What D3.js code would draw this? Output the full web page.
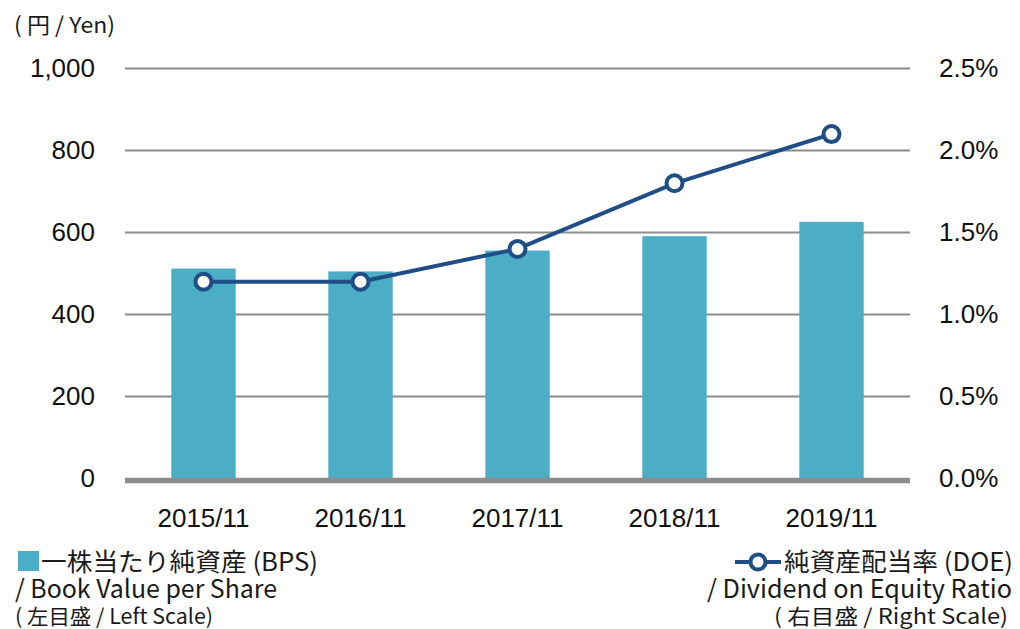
<!DOCTYPE html>
<html><head><meta charset="utf-8">
<script src="https://cdn.jsdelivr.net/npm/d3@7"></script>
<style>
body{margin:0;background:#fff;}
svg{display:block;}
</style></head>
<body>
<svg id="chart" width="1020" height="629"></svg>
<script>
const categories = ["2015/11","2016/11","2017/11","2018/11","2019/11"];
const bpsValues = [512, 505, 556, 591, 626];
const doeValues = [1.2, 1.2, 1.4, 1.8, 2.1];
const leftTicks = [0, 200, 400, 600, 800, 1000];
const rightTicks = [0, 0.5, 1.0, 1.5, 2.0, 2.5];
const unitLabel = "( 円 / Yen)";
const legendBps = ["一株当たり純資産 (BPS)", "/ Book Value per Share", "( 左目盛 / Left Scale)"];
const legendDoe = ["純資産配当率 (DOE)", "/ Dividend on Equity Ratio", "( 右目盛 / Right Scale)"];

const barColor = "#4badc6", lineColor = "#1f4e86", gridColor = "#8c8c8c";
const tickFont = "'Liberation Sans', Arial, sans-serif";
const jpFont = "'Noto Sans CJK JP', 'Noto Sans', sans-serif";

const svg = d3.select("#chart");
const L = 125, R = 910;
const x = d3.scaleBand().domain(categories).range([L, R]).paddingInner(0.59).paddingOuter(0.295);
const y = d3.scaleLinear().domain([0, 1000]).range([478.5, 68.5]);
const y2 = d3.scaleLinear().domain([0, 2.5]).range([478.5, 68.5]);

// gridlines
svg.append("g").selectAll("line").data(leftTicks.filter(d => d > 0)).join("line")
  .attr("x1", L).attr("x2", R).attr("y1", d => y(d)).attr("y2", d => y(d))
  .attr("stroke", gridColor).attr("stroke-width", 2);

// left axis labels
const yAxis = d3.axisLeft(y).tickValues(leftTicks).tickSize(0).tickPadding(0)
  .tickFormat(d3.format(","));
const gy = svg.append("g").attr("transform", `translate(95,0)`).call(yAxis);
gy.select(".domain").remove();
gy.selectAll("text").attr("font-family", tickFont).attr("font-size", 26).attr("fill", "#111");

// right axis labels
const y2Axis = d3.axisRight(y2).tickValues(rightTicks).tickSize(0).tickPadding(0)
  .tickFormat(d => d3.format(".1f")(d) + "%");
const gy2 = svg.append("g").attr("transform", `translate(939,0)`).call(y2Axis);
gy2.select(".domain").remove();
gy2.selectAll("text").attr("font-family", tickFont).attr("font-size", 26).attr("fill", "#111");

// bars
svg.append("g").selectAll("rect").data(categories).join("rect")
  .attr("x", d => x(d)).attr("width", x.bandwidth())
  .attr("y", (d, i) => y(bpsValues[i])).attr("height", (d, i) => y(0) - y(bpsValues[i]))
  .attr("fill", barColor);

// baseline
svg.append("line").attr("x1", L).attr("x2", R).attr("y1", y(0) + 2).attr("y2", y(0) + 2)
  .attr("stroke", gridColor).attr("stroke-width", 5.5);

// x axis labels
const xAxis = d3.axisBottom(x).tickSize(0).tickPadding(0);
const gx = svg.append("g").attr("transform", `translate(0,509)`).call(xAxis);
gx.select(".domain").remove();
gx.selectAll("text").attr("font-family", tickFont).attr("font-size", 26).attr("fill", "#111").attr("dy", "0.71em");

// line
const line = d3.line().x((d, i) => x(categories[i]) + x.bandwidth() / 2).y(d => y2(d));
svg.append("path").datum(doeValues).attr("d", line)
  .attr("fill", "none").attr("stroke", lineColor).attr("stroke-width", 4);
svg.append("g").selectAll("circle").data(doeValues).join("circle")
  .attr("cx", (d, i) => x(categories[i]) + x.bandwidth() / 2).attr("cy", d => y2(d))
  .attr("r", 8).attr("fill", "#fff").attr("stroke", lineColor).attr("stroke-width", 4);

function txt(g, xx, yy, s, size, len, anchor) {
  return g.append("text").attr("x", xx).attr("y", yy).text(s)
    .attr("font-family", jpFont).attr("font-size", size).attr("fill", "#1a1a1a")
    .attr("text-anchor", anchor || "start")
    .attr("textLength", len).attr("lengthAdjust", "spacingAndGlyphs");
}

// unit label
txt(svg, 14, 33, unitLabel, 22, 101);

// legend left
svg.append("rect").attr("x", 18).attr("y", 551).attr("width", 21).attr("height", 20).attr("fill", barColor);
txt(svg, 41, 571, legendBps[0], 25, 277);
txt(svg, 15, 598, legendBps[1], 25, 262);
txt(svg, 15, 624, legendBps[2], 21, 198);

// legend right
const lg = svg.append("g");
txt(lg, 1013, 571, legendDoe[0], 25, 229, "end");
txt(lg, 1012, 598, legendDoe[1], 25, 305, "end");
txt(lg, 1008, 624, legendDoe[2], 21, 234, "end");
lg.append("line").attr("x1", 735).attr("x2", 781).attr("y1", 562).attr("y2", 562)
  .attr("stroke", lineColor).attr("stroke-width", 4);
lg.append("circle").attr("cx", 758).attr("cy", 562).attr("r", 7.5)
  .attr("fill", "#fff").attr("stroke", lineColor).attr("stroke-width", 4);
</script>
</body></html>
